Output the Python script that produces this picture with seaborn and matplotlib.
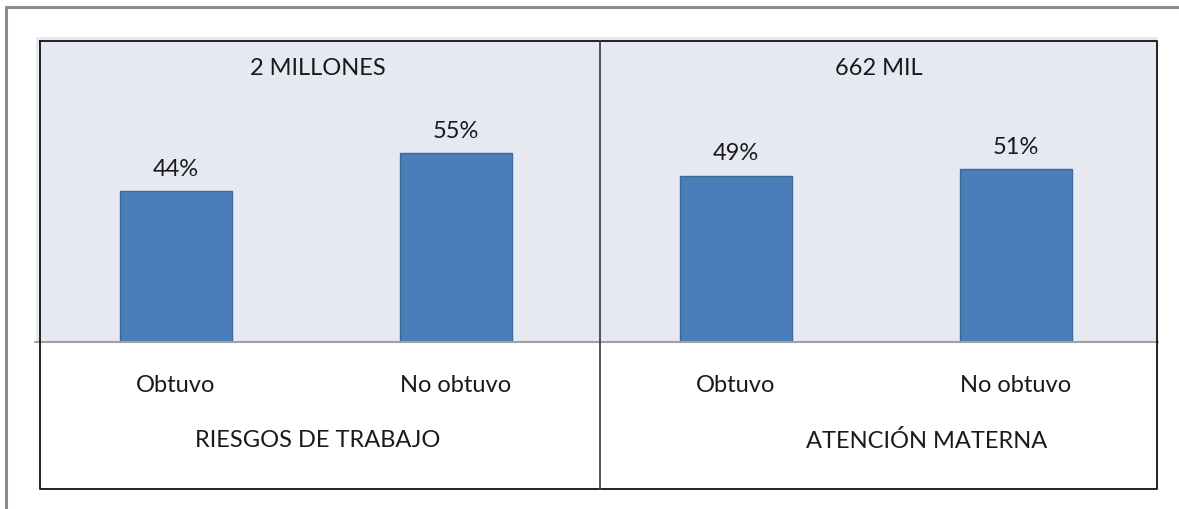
import numpy as np
import pandas as pd
import matplotlib
matplotlib.use("Agg")
import matplotlib.pyplot as plt
import seaborn as sns
from matplotlib.lines import Line2D

sns.set_theme(style="white")
plt.rcParams["font.family"] = ["Lato", "DejaVu Sans"]

# datos
categorias = ["Obtuvo", "No obtuvo"]
riesgos_vals = [44, 55]
materna_vals = [49, 51]
titulos = ["2 MILLONES", "662 MIL"]
grupos = ["RIESGOS DE TRABAJO", "ATENCIÓN MATERNA"]

W, H = 1179, 510
fig = plt.figure(figsize=(W / 100, H / 100), dpi=100)
fig.patch.set_facecolor("white")

def px_axes(x0, x1, ytop, ybot):
    return fig.add_axes([x0 / W, 1 - ybot / H, (x1 - x0) / W, (ybot - ytop) / H])

bg = "#e6e9f2"
bar_col = "#4a7ebb"
edge_col = "#3b6897"
txt = "#1a1a1a"
fs = 17

paneles = [
    (36, 600, 176, riesgos_vals, titulos[0], grupos[0], 0.5, 88.9),
    (600, 1158, 736, materna_vals, titulos[1], grupos[1], 0.585, 90.0),
]

for x0, x1, c0, vals, titulo, grupo, gx, ymax in paneles:
    ax = px_axes(x0, x1, 38, 343)
    df = pd.DataFrame({"cat": categorias, "val": vals})
    sns.barplot(data=df, x="cat", y="val", ax=ax, color=bar_col, width=0.4,
                saturation=1, edgecolor=edge_col, linewidth=1)
    step = 280
    ax.set_xlim(-(c0 - x0) / step, (x1 - x0 - (c0 - x0)) / step)
    ax.set_ylim(0, ymax)
    ax.set_facecolor(bg)
    for s in ax.spines.values():
        s.set_visible(False)
    ax.set_yticks([])
    ax.set_ylabel("")
    ax.tick_params(axis="x", length=0, pad=23, labelsize=fs, labelcolor=txt)
    ax.bar_label(ax.containers[0], labels=[f"{v}%" for v in vals], padding=9,
                 fontsize=fs, color=txt)
    ax.text(0.5, 0.9, titulo, transform=ax.transAxes, ha="center", va="center",
            fontsize=fs, color=txt)
    ax.set_xlabel(grupo, fontsize=fs, color=txt)
    ax.xaxis.set_label_coords(gx, -0.285)

# lineas del recuadro
def fline(xs, ys, **kw):
    fig.add_artist(Line2D([x / W for x in xs], [1 - y / H for y in ys], **kw))

fline([35, 1158], [343, 343], color="#a0a0a0", lw=1.5)
fline([40, 1157, 1157, 40, 40], [42, 42, 490, 490, 42], color="#111111", lw=1.3)
fline([600, 600], [42, 490], color="#444444", lw=1.3)
fline([6, 6], [8, 510], color="#8c8c8c", lw=2.2)
fline([6, 1179], [8, 8], color="#8c8c8c", lw=2.2)

fig.savefig("out.png", dpi=100)
